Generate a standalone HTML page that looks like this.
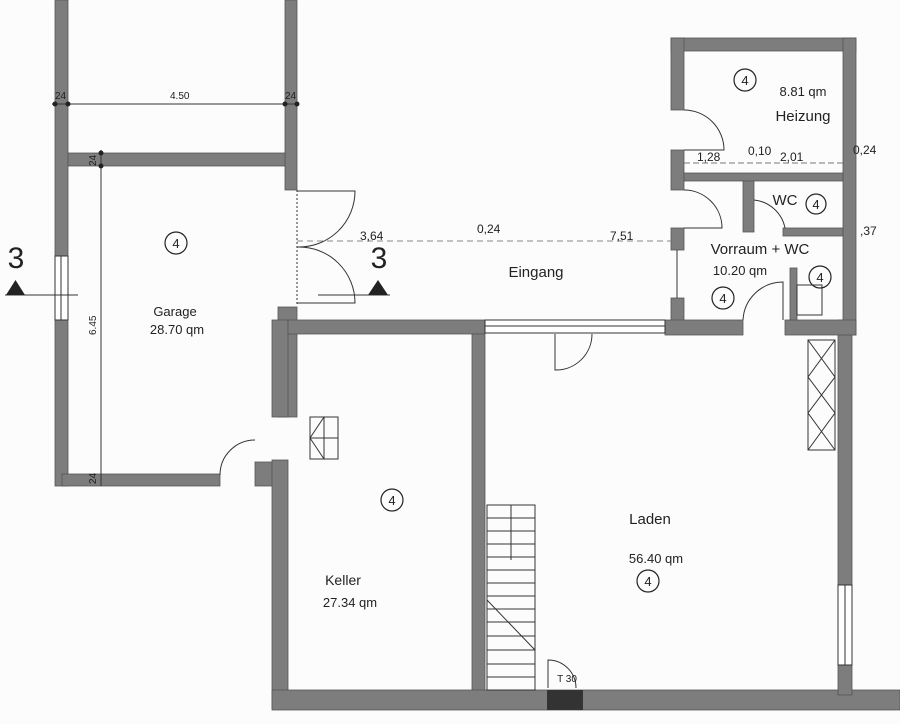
<!DOCTYPE html>
<html><head><meta charset="utf-8"><style>
html,body{margin:0;padding:0;background:#fff;}
svg{display:block;}
text{font-family:"Liberation Sans",sans-serif;fill:#222;}
</style></head><body>
<svg width="900" height="724" viewBox="0 0 900 724" xmlns="http://www.w3.org/2000/svg">
<rect width="900" height="724" fill="#fcfcfc"/>
<g fill="#7d7d7d" stroke="#555" stroke-width="0.8">
<rect x="55" y="0" width="13" height="256"/>
<rect x="55" y="320" width="13" height="166"/>
<rect x="285" y="0" width="12" height="190"/>
<rect x="68" y="153" width="217" height="13"/>
<rect x="62" y="474" width="158" height="12"/>
<rect x="255" y="462" width="20" height="24"/>
<rect x="278" y="307" width="19" height="110"/>
<rect x="272" y="320" width="16" height="97"/>
<rect x="272" y="460" width="16" height="248"/>
<rect x="288" y="320" width="197" height="14"/>
<rect x="472" y="334" width="13" height="360"/>
<rect x="272" y="690" width="628" height="20"/>
<rect x="838" y="320" width="14" height="265"/>
<rect x="838" y="665" width="14" height="30"/>
<rect x="671" y="38" width="185" height="13"/>
<rect x="671" y="38" width="13" height="72"/>
<rect x="671" y="150" width="13" height="40"/>
<rect x="671" y="228" width="13" height="22"/>
<rect x="671" y="298" width="13" height="30"/>
<rect x="843" y="38" width="13" height="297"/>
<rect x="684" y="173" width="159" height="8"/>
<rect x="665" y="320" width="78" height="15"/>
<rect x="785" y="320" width="71" height="15"/>
<rect x="743" y="181" width="11" height="51"/>
<rect x="783" y="228" width="60" height="8"/>
<rect x="790" y="268" width="7" height="52"/>
</g>
<rect x="547" y="690" width="36" height="20" fill="#333"/>
<g fill="none" stroke="#333" stroke-width="1">
<rect x="55" y="256" width="13" height="64" fill="#fff"/>
<line x1="61" y1="256" x2="61" y2="320"/>
<rect x="838" y="585" width="14" height="80" fill="#fff"/>
<line x1="845" y1="585" x2="845" y2="665"/>
<rect x="485" y="320" width="180" height="13" fill="#fff"/>
<line x1="485" y1="326" x2="665" y2="326"/>
<line x1="677" y1="250" x2="677" y2="298"/>
<line x1="52" y1="104" x2="298" y2="104"/>
<line x1="101" y1="150" x2="101" y2="486"/>
<line x1="297" y1="241" x2="671" y2="241" stroke-dasharray="6 4" stroke="#888"/>
<line x1="684" y1="163" x2="843" y2="163" stroke-dasharray="6 3" stroke="#777"/>
<line x1="5" y1="295" x2="78" y2="295"/>
<line x1="318" y1="295" x2="390" y2="295"/>
<line x1="297" y1="190" x2="297" y2="305" stroke-dasharray="2 2"/>
<path d="M297 191 H355 A56 56 0 0 1 297 247"/>
<path d="M297 247 A56 56 0 0 1 355 303 H297"/>
<path d="M220 475 A35 35 0 0 1 255 440"/>
<path d="M684 110 A40 40 0 0 1 724 150 H684"/>
<path d="M684 190 A38 38 0 0 1 722 228 H684"/>
<path d="M555 334 V370 A36 36 0 0 0 592 334"/>
<path d="M754 200 A35 35 0 0 1 785 228"/>
<path d="M743 320 A40 40 0 0 1 783 282 V320"/>
<path d="M548 688 V660 A28 28 0 0 1 576 688"/>
<rect x="310" y="417" width="28" height="42"/>
<line x1="310" y1="438" x2="338" y2="438"/><line x1="324" y1="417" x2="324" y2="459"/>
<path d="M310 438 L324 417 M310 438 L324 459"/>
<rect x="808" y="340" width="27" height="110"/>
<path d="M808 340 L835 377 L808 413 L835 450 M835 340 L808 377 L835 413 L808 450"/>
<rect x="487" y="505" width="48" height="185"/>
<line x1="511" y1="505" x2="511" y2="560"/>
<path d="M487 518 H535 M487 531 H535 M487 544 H535 M487 557 H535 M487 570 H535 M487 583 H535 M487 596 H535 M487 609 H535 M487 622 H535 M487 636 H535 M487 650 H535 M487 664 H535 M487 677 H535"/>
<path d="M487 600 L535 650"/>
<rect x="797" y="285" width="25" height="30"/>
</g>
<g fill="#222">
<circle cx="55" cy="104" r="2.5"/><circle cx="68" cy="104" r="2.5"/><circle cx="285" cy="104" r="2.5"/><circle cx="297" cy="104" r="2.5"/>
<circle cx="101" cy="153" r="2.5"/><circle cx="101" cy="166" r="2.5"/>
<polygon points="6,295 25,295 15.5,280"/>
<polygon points="368,295 388,295 378,280"/>
</g>
<g fill="none" stroke="#222" stroke-width="1.2">
<circle cx="176" cy="243" r="11"/><circle cx="392" cy="500" r="11"/><circle cx="648" cy="581" r="11"/>
<circle cx="745" cy="80" r="11"/><circle cx="816" cy="204" r="10"/><circle cx="820" cy="277" r="11"/><circle cx="723" cy="298" r="11"/>
</g>
<g font-size="13" text-anchor="middle">
<text x="176" y="248">4</text><text x="392" y="505">4</text><text x="648" y="586">4</text>
<text x="745" y="85">4</text><text x="816" y="209">4</text><text x="820" y="282">4</text><text x="723" y="303">4</text>
<text x="175" y="316" font-size="13">Garage</text>
<text x="177" y="334" font-size="13">28.70 qm</text>
<text x="343" y="585" font-size="14">Keller</text>
<text x="350" y="607" font-size="13">27.34 qm</text>
<text x="650" y="524" font-size="15">Laden</text>
<text x="656" y="563" font-size="13">56.40 qm</text>
<text x="536" y="277" font-size="15">Eingang</text>
<text x="803" y="96" font-size="13">8.81 qm</text>
<text x="803" y="121" font-size="15">Heizung</text>
<text x="760" y="254" font-size="15">Vorraum + WC</text>
<text x="740" y="275" font-size="13">10.20 qm</text>
<text x="785" y="205" font-size="15">WC</text>
<text x="16" y="268" font-size="30">3</text>
<text x="379" y="268" font-size="30">3</text>
<text x="567" y="682" font-size="10">T 30</text>
</g>
<g font-size="10" fill="#333">
<text x="55" y="99">24</text><text x="170" y="99">4.50</text><text x="285" y="99">24</text>
<text x="96" y="166" transform="rotate(-90 96 166)">24</text>
<text x="96" y="484" transform="rotate(-90 96 484)">24</text>
<text x="96" y="335" transform="rotate(-90 96 335)">6.45</text>
<text x="360" y="240" font-size="12">3,64</text>
<text x="477" y="233" font-size="12">0,24</text>
<text x="610" y="240" font-size="12">7,51</text>
<text x="697" y="161" font-size="12">1,28</text>
<text x="748" y="155" font-size="12">0,10</text>
<text x="780" y="161" font-size="12">2,01</text>
<text x="853" y="154" font-size="12">0,24</text>
<text x="860" y="235" font-size="12">,37</text>
</g>
</svg>
</body></html>
